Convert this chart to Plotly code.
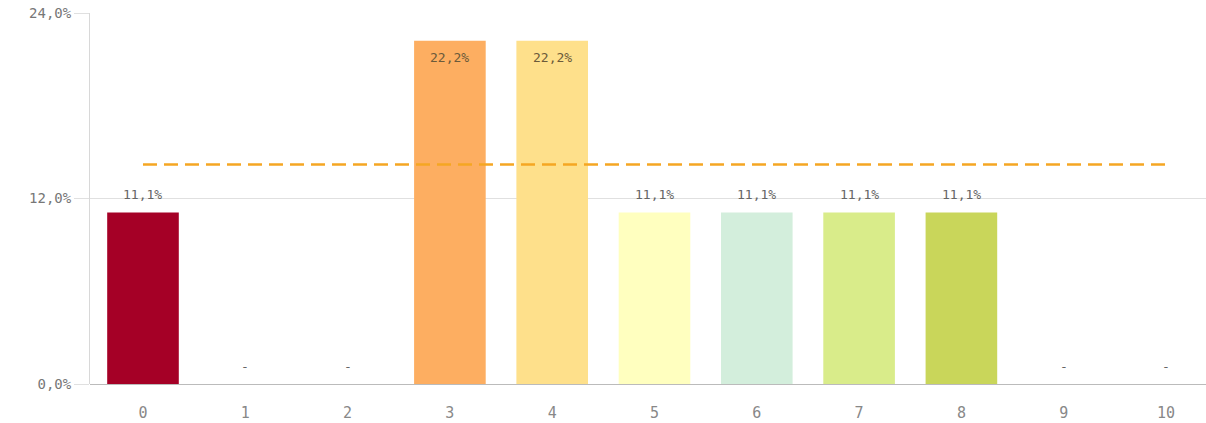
import plotly.graph_objects as go

categories = ["0", "1", "2", "3", "4", "5", "6", "7", "8", "9", "10"]
values = [11.1, 0, 0, 22.2, 22.2, 11.1, 11.1, 11.1, 11.1, 0, 0]
bar_colors = ["#A50026", "#F46D43", "#FDAE61", "#FDAE61", "#FEE08B", "#FFFFBF",
              "#D3EEDC", "#D9EC8A", "#C9D65A", "#66BD63", "#1A9850"]
reference_value = 14.2
y_ticks = [0, 12, 24]
y_tick_labels = ["0,0%", "12,0%", "24,0%"]

labels = ["-" if v == 0 else f"{v:.1f}".replace(".", ",") + "%" for v in values]

font = "DejaVu Sans Mono"

fig = go.Figure()
fig.add_trace(go.Bar(
    x=categories, y=values,
    marker=dict(color=bar_colors, line=dict(width=0)),
    width=0.7,
    hoverinfo="skip",
    showlegend=False,
))
fig.add_trace(go.Scatter(
    x=categories, y=[reference_value] * len(categories),
    mode="lines",
    line=dict(color="#F5A623", width=2.5, dash="14px,7px"),
    hoverinfo="skip",
    showlegend=False,
))

for c, v, t in zip(categories, values, labels):
    inside = v > 20
    fig.add_annotation(
        x=c, y=v, text=t, showarrow=False,
        xref="x", yref="y",
        yshift=-17 if inside else 18,
        font=dict(family=font, size=13, color="#6b5a3a" if inside else "#666666"),
    )

fig.update_layout(
    width=1206, height=423,
    margin=dict(l=90, r=0, t=13, b=39),
    paper_bgcolor="white", plot_bgcolor="white",
    font=dict(family=font, size=12, color="#777777"),
    xaxis=dict(
        type="category",
        range=[-0.518, 10.391],
        showgrid=False,
        showline=False,
        ticks="outside",
        ticklen=15,
        tickcolor="rgba(0,0,0,0)",
        tickfont=dict(family=font, size=15, color="#888888"),
        zeroline=False,
    ),
    yaxis=dict(
        range=[0, 24],
        tickvals=y_ticks,
        ticktext=y_tick_labels,
        showgrid=True,
        gridcolor="#E0E0E0",
        gridwidth=1,
        showline=True,
        linecolor="#D8D8D8",
        linewidth=1,
        ticks="outside",
        ticklen=15,
        tickcolor="#E0E0E0",
        tickfont=dict(family=font, size=14, color="#777777"),
        zeroline=True,
        zerolinecolor="#BBBBBB",
        zerolinewidth=1,
    ),
)

fig.write_html(
    "out.html",
    config={"displayModeBar": False},
    post_script="document.body.style.margin='0';document.body.style.overflow='hidden';",
)
